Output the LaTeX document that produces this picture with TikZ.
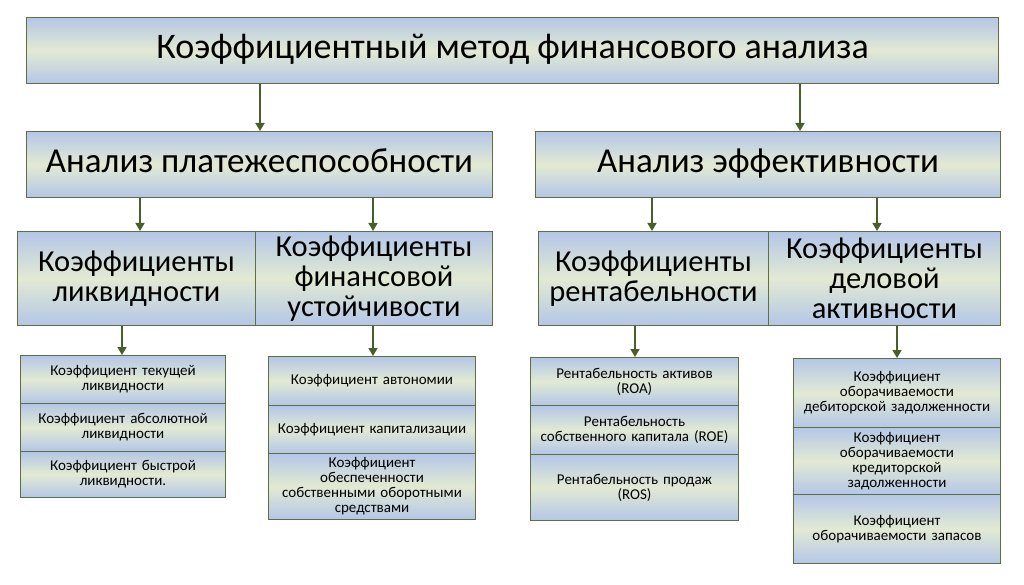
\documentclass[tikz,border=0pt]{standalone}
\usepackage{fontspec}
\setmainfont{Carlito}
\usetikzlibrary{arrows.meta, shadings}

\definecolor{boxblue}{HTML}{B4C6E7}
\definecolor{boxmid}{HTML}{E2EAD3}
\definecolor{boxline}{HTML}{5E7040}
\definecolor{arrowgreen}{HTML}{4A5E2A}

\tikzset{
    box/.style={draw=boxline, line width=1pt, top color=boxblue, bottom color=boxblue, middle color=boxmid,
        anchor=north west, align=center, inner sep=1pt},
    head/.style={box, text height=24pt, text depth=7pt},
    link/.style={draw=arrowgreen, line width=1.5pt, -{Triangle[width=9pt,length=8pt]}}
}

\begin{document}
\begin{tikzpicture}[x=1pt, y=-1pt]
    \useasboundingbox (0,0) rectangle (1024,585);

    % Title
    \node[head, minimum width=972pt, minimum height=66pt, font=\fontsize{36}{40}\selectfont] (title) at (26,17) {Коэффициентный метод финансового анализа};

    % Second level
    \node[head, minimum width=466pt, minimum height=66pt, font=\fontsize{35}{40}\selectfont] (solv) at (26,131) {Анализ платежеспособности};
    \node[head, minimum width=465pt, minimum height=66pt, font=\fontsize{35}{40}\selectfont] (eff) at (535,131) {Анализ эффективности};

    % Third level
    \node[box, minimum width=238pt, minimum height=94pt, text width=234pt, font=\fontsize{30.5}{30}\selectfont] (liq) at (17,231) {Коэффициенты\\ликвидности};
    \node[box, minimum width=237pt, minimum height=94pt, text width=234pt, font=\fontsize{30.5}{30}\selectfont] (stab) at (255,231) {Коэффициенты\\финансовой\\устойчивости};
    \node[box, minimum width=230pt, minimum height=94pt, text width=227pt, font=\fontsize{30.5}{30}\selectfont] (prof) at (538,231) {Коэффициенты\\рентабельности};
    \node[box, minimum width=232pt, minimum height=94pt, text width=229pt, font=\fontsize{30.5}{30}\selectfont] (act) at (768,231) {Коэффициенты\\деловой\\активности};

    % Fourth level
    \tikzset{small/.style={box, text width=203pt, font=\fontsize{15}{15}\selectfont}}
    \node[small, minimum width=205pt, minimum height=48pt] (l1) at (20,355) {Коэффициент текущей\\ликвидности};
    \node[small, minimum width=205pt, minimum height=48pt] (l2) at (20,403) {Коэффициент абсолютной\\ликвидности};
    \node[small, minimum width=205pt, minimum height=46pt] (l3) at (20,451) {Коэффициент быстрой\\ликвидности.};

    \node[small, minimum width=207pt, minimum height=49pt] (s1) at (268,356) {Коэффициент автономии};
    \node[small, minimum width=207pt, minimum height=48pt] (s2) at (268,405) {Коэффициент капитализации};
    \node[small, minimum width=207pt, minimum height=66pt] (s3) at (268,453) {Коэффициент\\обеспеченности\\собственными оборотными\\средствами};

    \node[small, minimum width=208pt, minimum height=48pt] (p1) at (530,357) {Рентабельность активов\\(ROA)};
    \node[small, minimum width=208pt, minimum height=49pt] (p2) at (530,405) {Рентабельность\\собственного капитала (ROE)};
    \node[small, minimum width=208pt, minimum height=66pt] (p3) at (530,454) {Рентабельность продаж\\(ROS)};

    \node[small, minimum width=207pt, minimum height=69pt] (a1) at (793,358) {Коэффициент\\оборачиваемости\\дебиторской задолженности};
    \node[small, minimum width=207pt, minimum height=67pt] (a2) at (793,427) {Коэффициент\\оборачиваемости\\кредиторской\\задолженности};
    \node[small, minimum width=207pt, minimum height=69pt] (a3) at (793,494) {Коэффициент\\оборачиваемости запасов};

    % Arrows
    \coordinate (xa) at (260,0);
    \coordinate (xb) at (800,0);
    \coordinate (xc) at (140,0);
    \coordinate (xd) at (373,0);
    \coordinate (xe) at (652,0);
    \coordinate (xf) at (877,0);
    \coordinate (xg) at (122,0);
    \coordinate (xh) at (635,0);
    \coordinate (xi) at (897,0);
    \draw[link] (title.south -| xa) -- (solv.north -| xa);
    \draw[link] (title.south -| xb) -- (eff.north -| xb);
    \draw[link] (solv.south -| xc) -- (liq.north -| xc);
    \draw[link] (solv.south -| xd) -- (stab.north -| xd);
    \draw[link] (eff.south -| xe) -- (prof.north -| xe);
    \draw[link] (eff.south -| xf) -- (act.north -| xf);
    \draw[link] (liq.south -| xg) -- (l1.north -| xg);
    \draw[link] (stab.south -| xd) -- (s1.north -| xd);
    \draw[link] (prof.south -| xh) -- (p1.north -| xh);
    \draw[link] (act.south -| xi) -- (a1.north -| xi);
\end{tikzpicture}
\end{document}
